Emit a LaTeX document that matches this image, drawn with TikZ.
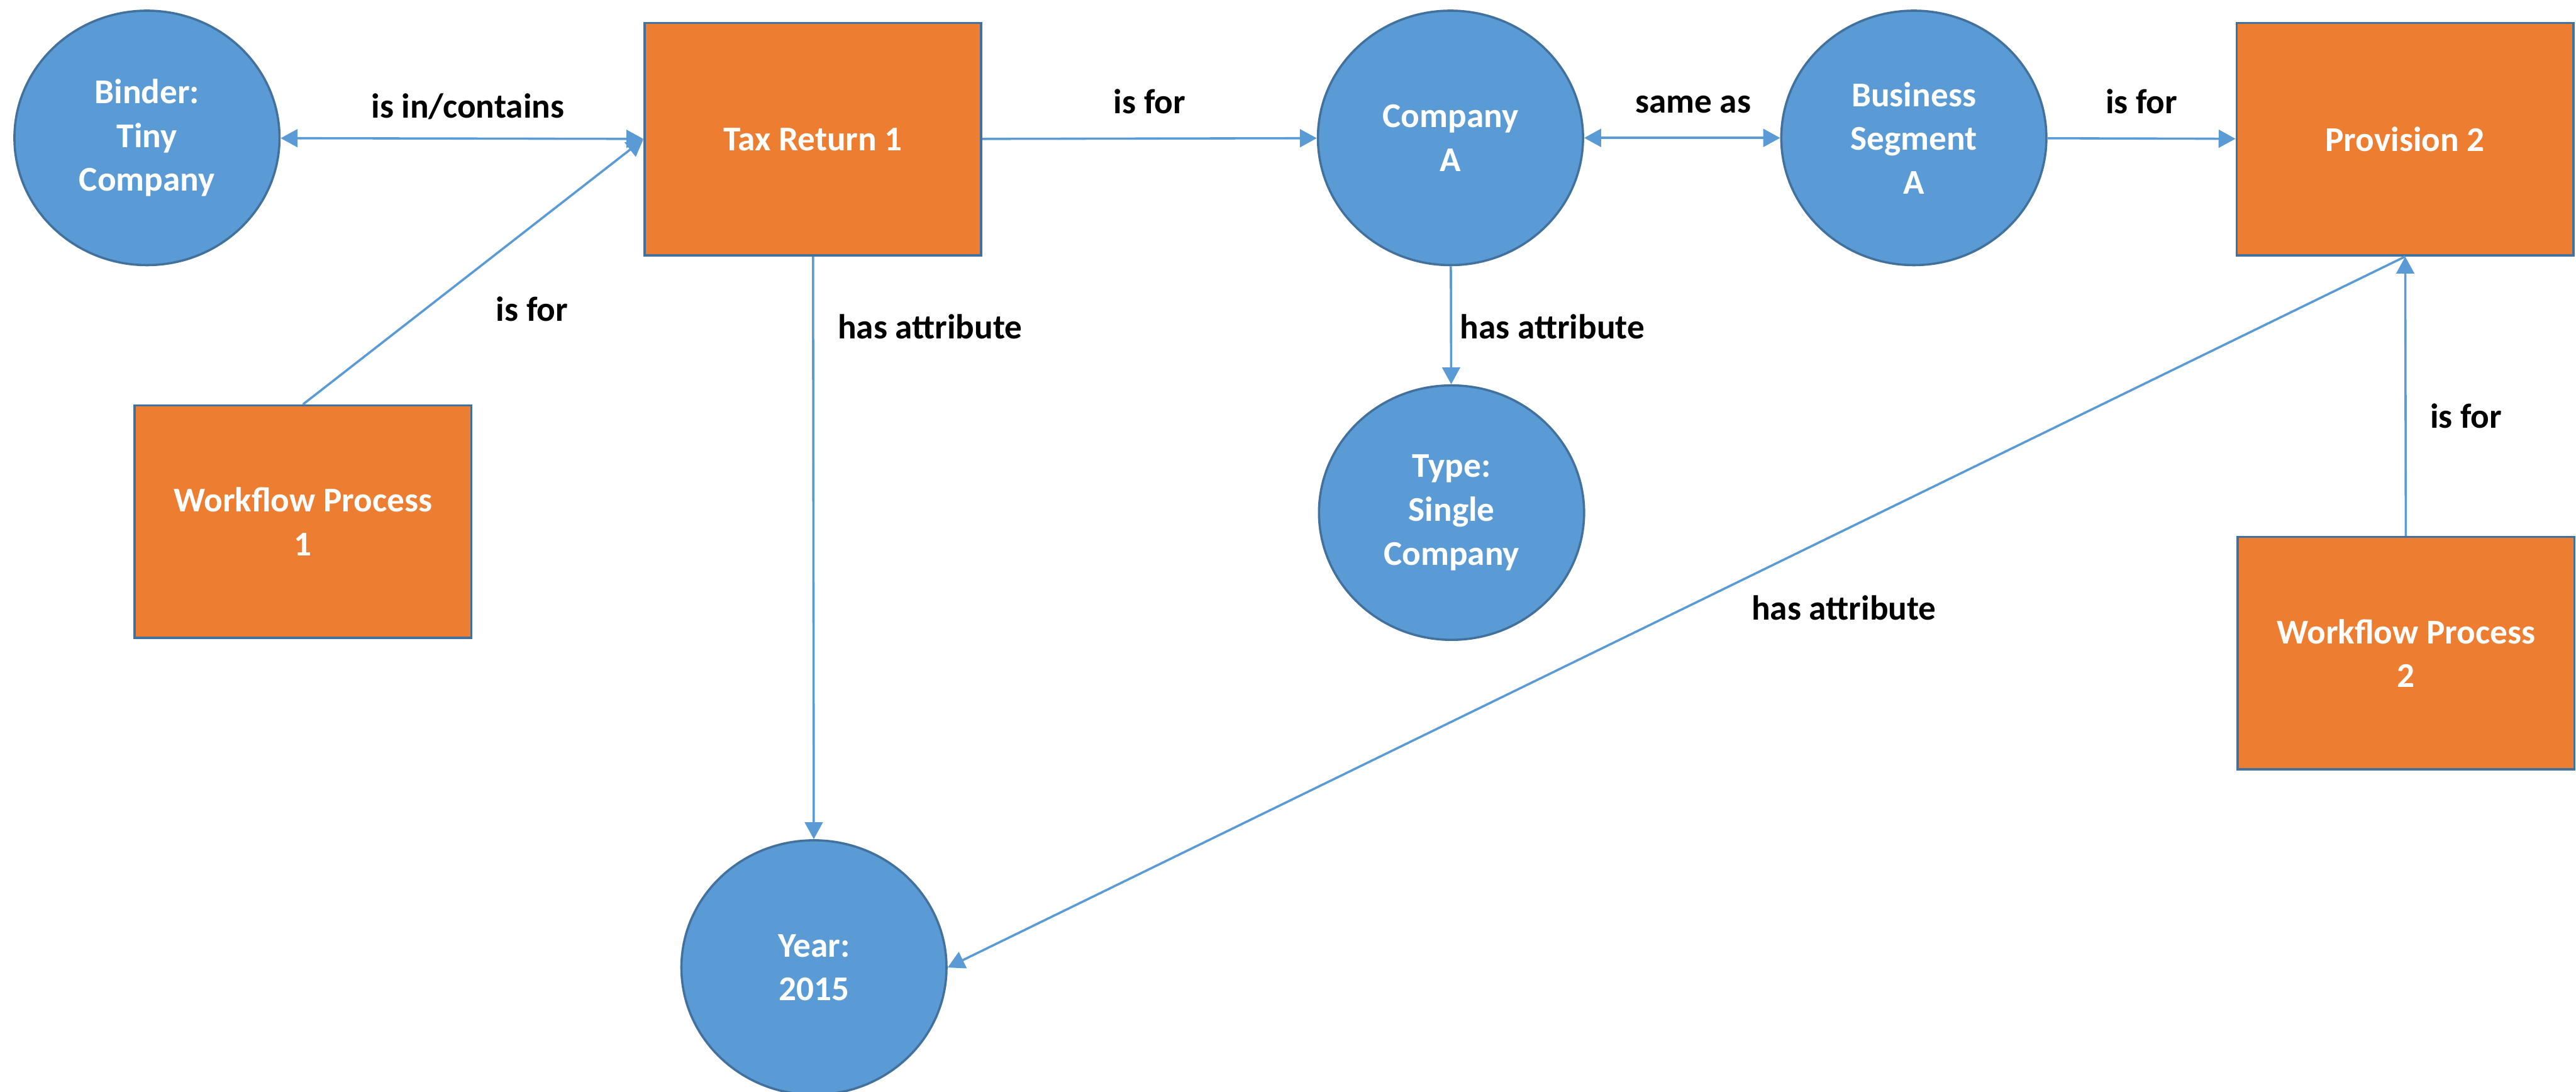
\documentclass[tikz,border=0pt]{standalone}
\usepackage{fontspec}
\setmainfont{Carlito}
\usepackage{tikz}
\usetikzlibrary{arrows.meta, shapes.geometric}
\definecolor{nodeblue}{HTML}{5B9BD5}
\definecolor{rimblue}{HTML}{41719C}
\definecolor{boxorange}{HTML}{ED7D31}

\begin{document}
\begin{tikzpicture}[
        font=\fontsize{18.5}{23.3}\selectfont\bfseries,
        entity/.style={ellipse, draw=rimblue, line width=1.2pt, fill=nodeblue, text=white, minimum width=4.96cm, minimum height=4.76cm, inner sep=0pt, align=center},
        record/.style={rectangle, draw=rimblue, line width=1.2pt, fill=boxorange, text=white, minimum width=6.3cm, minimum height=4.35cm, inner sep=0pt, align=center},
        link/.style={draw=nodeblue, line width=1.2pt, -{Triangle[length=9pt, width=9.5pt]}},
        twoway/.style={link, {Triangle[length=9pt, width=9.5pt]}-{Triangle[length=9pt, width=9.5pt]}},
        lbl/.style={inner sep=0pt, text depth=0pt, text=black}
    ]
        \useasboundingbox (0,0) rectangle (48.2,-20.42);

        \node (binder) at (2.75,-2.58)[entity] {Binder:\\Tiny\\Company};
        \node (tax1) at (15.21,-2.605)[record] {Tax Return 1};
        \node (compA) at (27.14,-2.58)[entity] {Company\\A};
        \node (segA) at (35.81,-2.58)[entity] {Business\\Segment\\A};
        \node (prov2) at (45.0,-2.605)[record] {Provision 2};
        \node (typeS) at (27.16,-9.59)[entity] {Type:\\Single\\Company};
        \node (wf1) at (5.67,-9.76)[record] {Workflow Process\\1};
        \node (wf2) at (45.02,-12.22)[record] {Workflow Process\\2};
        \node (year) at (15.23,-18.10)[entity] {Year:\\2015};

        \draw[twoway] (binder) -- (tax1) node[lbl, pos=0.516, above=0.37cm]{is in/contains};

        \draw[link] (wf1.north) -- (tax1.west) node[lbl, pos=0.36, right=1.3cm]{is for};

        \draw[link] (tax1) -- (compA) node[lbl, pos=0.5, above=0.45cm]{is for};

        \draw[twoway] (compA) -- (segA) node[lbl, pos=0.556, above=0.45cm]{same as};

        \draw[link] (segA) -- (prov2) node[lbl, pos=0.5, above=0.45cm]{is for};

        \draw[link] (tax1) -- (year) node[lbl, pos=0.12, right=0.44cm]{has attribute};

        \draw[link] (compA) -- (typeS) node[lbl, pos=0.51, right=0.15cm]{has attribute};

        \draw[link] (wf2) -- (prov2) node[lbl, pos=0.43, right=0.44cm]{is for};

        \draw[link] (prov2.south) -- (year.east) node[lbl, pos=0.385, below=1.2cm]{has attribute};

    \end{tikzpicture}
\end{document}
